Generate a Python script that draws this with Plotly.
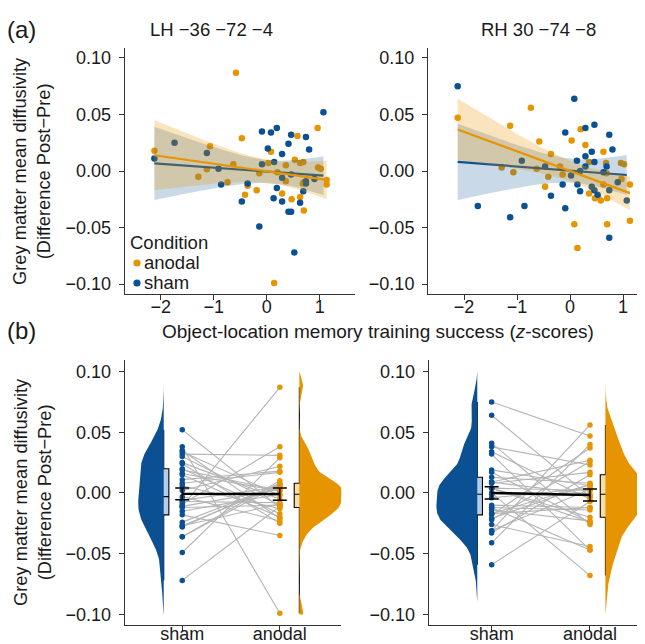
import numpy as np
import plotly.graph_objects as go

# ---------------- data ----------------
anodal_x = [-2.12, -1.29, -1.13, -1.07, -0.74, -0.63, -0.58, -0.47, -0.41, -0.36, -0.19,
            -0.14, 0.03, 0.08, 0.14, 0.20, 0.29, 0.36, 0.36, 0.47, 0.53, 0.58, 0.63, 0.63,
            0.68, 0.69, 0.70, 0.70, 0.96, 0.97, 1.02, 1.13, 1.13]
sham_x = [-2.12, -1.74, -1.13, -0.91, -0.86, -0.47, -0.36, -0.14, -0.09, -0.09, 0.02,
          0.08, 0.13, 0.14, 0.19, 0.19, 0.29, 0.29, 0.29, 0.41, 0.41, 0.46, 0.46, 0.46,
          0.52, 0.63, 0.69, 0.74, 0.74, 0.74, 0.80, 0.90, 1.07]

lh_anodal_y = [0.018, -0.005, 0.0015, 0.022, -0.010, 0.006, 0.087, 0.029, -0.021, -0.013,
               -0.017, -0.002, 0.007, 0.017, -0.099, -0.001, -0.020, 0.005, -0.009, -0.025,
               0.010, 0.031, 0.007, -0.023, -0.011, 0.008, -0.035, -0.010, 0.038, 0.003,
               0.002, -0.008, -0.012]
lh_sham_y = [0.011, 0.025, 0.016, 0.002, -0.012, -0.027, -0.011, -0.049, 0.035, 0.006,
             0.020, 0.034, -0.024, 0.008, 0.038, -0.015, 0.015, -0.006, -0.027, 0.024,
             -0.036, 0.032, -0.036, -0.003, -0.072, -0.028, -0.018, 0.030, -0.009, -0.011,
             0.019, -0.007, 0.052]
rh_anodal_y = [0.047, 0.003, 0.040, -0.001, 0.056, 0.002, 0.026, -0.014, -0.005, 0.015,
               0.004, -0.003, 0.027, -0.047, -0.068, 0.037, 0.023, 0.008, -0.020, -0.024,
               -0.023, -0.026, 0.017, -0.012, 0.007, -0.002, -0.024, -0.047, 0.007, -0.007,
               0.006, -0.012, -0.044]
rh_sham_y = [0.075, -0.031, -0.041, 0.009, -0.031, 0.004, -0.022, -0.012, 0.034, -0.033,
             -0.004, 0.064, 0.009, -0.012, 0.000, -0.018, 0.038, 0.013, 0.004, 0.017,
             -0.014, 0.041, 0.008, -0.017, -0.021, -0.001, 0.004, 0.032, -0.017, -0.059,
             0.019, -0.010, -0.026]

conditions = ["sham", "anodal"]
legend_labels = ["anodal", "sham"]
panel_titles = ["LH \u221236 \u221272 \u22124", "RH 30 \u221274 \u22128"]
y_tickvals = [0.10, 0.05, 0.00, -0.05, -0.10]
y_ticktext = ["0.10", "0.05", "0.00", "\u22120.05", "\u22120.10"]
x_tickvals = [-2, -1, 0, 1]
x_ticktext = ["\u22122", "\u22121", "0", "1"]

# ---------------- styles ----------------
BLUE = "#0B5093"
ORANGE = "#E69500"
BLUE_BAND = "rgba(11,80,147,0.22)"
ORANGE_BAND = "rgba(230,149,0,0.26)"
BLUE_BOX = "#B4CDE8"
ORANGE_BOX = "#F8DDA8"
FONT = "Liberation Sans, Arial, Helvetica, sans-serif"
TXT = "#1a1a1a"
W, H = 645, 644


def px_x(p):
    return p / W


def px_y(p):
    return 1 - p / H


def fit_band(x, y, n_grid=80):
    x = np.asarray(x, float)
    y = np.asarray(y, float)
    n = len(x)
    b, a = np.polyfit(x, y, 1)
    xs = np.linspace(x.min(), x.max(), n_grid)
    yhat = a + b * xs
    resid = y - (a + b * x)
    s = np.sqrt(np.sum(resid ** 2) / (n - 2))
    sxx = np.sum((x - x.mean()) ** 2)
    se = s * np.sqrt(1.0 / n + (xs - x.mean()) ** 2 / sxx)
    t = 2.04
    return xs, yhat, yhat - t * se, yhat + t * se


def kde(y):
    y = np.asarray(y, float)
    n = len(y)
    sd = y.std(ddof=1)
    q75, q25 = np.percentile(y, [75, 25])
    bw = 0.9 * min(sd, (q75 - q25) / 1.34) * n ** -0.2
    lo = max(y.min() - 3 * bw, -0.1)
    hi = min(y.max() + 3 * bw, 0.1)
    grid = np.linspace(lo, hi, 240)
    d = np.exp(-0.5 * ((grid[:, None] - y[None, :]) / bw) ** 2).sum(1) / (n * bw * np.sqrt(2 * np.pi))
    return grid, d


fig = go.Figure()

# ---------------- top scatter panels ----------------
top_sets = [
    ("x", "y", lh_anodal_y, lh_sham_y),
    ("x2", "y2", rh_anodal_y, rh_sham_y),
]
for xa, ya, an_y, sh_y in top_sets:
    fig.add_trace(go.Scatter(x=anodal_x, y=an_y, mode="markers", name="anodal",
                             marker=dict(color=ORANGE, size=6.5), xaxis=xa, yaxis=ya))
    fig.add_trace(go.Scatter(x=sham_x, y=sh_y, mode="markers", name="sham",
                             marker=dict(color=BLUE, size=6.5), xaxis=xa, yaxis=ya))
    for xv, yv, band, col in [(sham_x, sh_y, BLUE_BAND, BLUE), (anodal_x, an_y, ORANGE_BAND, ORANGE)]:
        xs, yh, lo, hi = fit_band(xv, yv)
        fig.add_trace(go.Scatter(x=np.concatenate([xs, xs[::-1]]), y=np.concatenate([hi, lo[::-1]]),
                                 fill="toself", fillcolor=band, line=dict(width=0), mode="lines",
                                 hoverinfo="skip", xaxis=xa, yaxis=ya))
        fig.add_trace(go.Scatter(x=xs, y=yh, mode="lines", line=dict(color=col, width=2.2),
                                 xaxis=xa, yaxis=ya))

# ---------------- bottom raincloud panels ----------------
bottom_sets = [
    ("x3", "y3", lh_sham_y, lh_anodal_y, 0.81, 2.20),
    ("x4", "y4", rh_sham_y, rh_anodal_y, 0.854, 2.157),
]
for xa, ya, sh_y, an_y, sh_pos, an_pos in bottom_sets:
    g_s, d_s = kde(sh_y)
    g_a, d_a = kde(an_y)
    scale = 0.44 / max(d_s.max(), d_a.max())
    # half violins
    xs_v = np.concatenate([[sh_pos], sh_pos - d_s * scale, [sh_pos]])
    ys_v = np.concatenate([[g_s[0]], g_s, [g_s[-1]]])
    fig.add_trace(go.Scatter(x=xs_v, y=ys_v, fill="toself", fillcolor=BLUE, mode="lines",
                             line=dict(width=0, color=BLUE), xaxis=xa, yaxis=ya, hoverinfo="skip"))
    xa_v = np.concatenate([[an_pos], an_pos + d_a * scale, [an_pos]])
    ya_v = np.concatenate([[g_a[0]], g_a, [g_a[-1]]])
    fig.add_trace(go.Scatter(x=xa_v, y=ya_v, fill="toself", fillcolor=ORANGE, mode="lines",
                             line=dict(width=0, color=ORANGE), xaxis=xa, yaxis=ya, hoverinfo="skip"))
    # boxes
    for vals, pos, fc in [(sh_y, sh_pos, BLUE_BOX), (an_y, an_pos, ORANGE_BOX)]:
        fig.add_trace(go.Box(y=vals, x0=pos, width=0.105, boxpoints=False, fillcolor=fc,
                             line=dict(color="black", width=1.1), whiskerwidth=0,
                             quartilemethod="inclusive", xaxis=xa, yaxis=ya, hoverinfo="skip"))
    # paired lines
    lx, ly = [], []
    for s, a in zip(sh_y, an_y):
        lx += [1, 2, None]
        ly += [s, a, None]
    fig.add_trace(go.Scatter(x=lx, y=ly, mode="lines", line=dict(color="#B4B4B4", width=1.1),
                             xaxis=xa, yaxis=ya, hoverinfo="skip"))
    # dots
    fig.add_trace(go.Scatter(x=[1] * len(sh_y), y=sh_y, mode="markers",
                             marker=dict(color=BLUE, size=5.5), xaxis=xa, yaxis=ya))
    fig.add_trace(go.Scatter(x=[2] * len(an_y), y=an_y, mode="markers",
                             marker=dict(color=ORANGE, size=5.5), xaxis=xa, yaxis=ya))
    # mean +- SE
    means = [np.mean(sh_y), np.mean(an_y)]
    ses = [np.std(sh_y, ddof=1) / np.sqrt(len(sh_y)), np.std(an_y, ddof=1) / np.sqrt(len(an_y))]
    fig.add_trace(go.Scatter(x=[1, 2], y=means, mode="lines", line=dict(color="black", width=2.4),
                             error_y=dict(type="data", array=ses, color="black", thickness=1.5, width=7),
                             xaxis=xa, yaxis=ya))

# ---------------- layout ----------------
axis_common = dict(showline=True, linecolor="#333333", linewidth=1, ticks="outside", ticklen=5,
                   tickcolor="#333333", showgrid=False, zeroline=False, automargin=False,
                   tickfont=dict(family=FONT, size=18, color=TXT))
x_top = dict(ticklabelstandoff=-9, **axis_common)
x_bot = dict(ticklabelstandoff=-13, **axis_common)
y_common = dict(ticklabelstandoff=4, **axis_common)

top_y = [px_y(286), px_y(40)]
bot_y = [px_y(617), px_y(352)]
TOP_R = [-0.1088, 0.1088]
BOT_R = [-0.1087, 0.1095]

layout = dict(
    width=W, height=H, margin=dict(l=0, r=0, t=0, b=0), autosize=False,
    paper_bgcolor="white", plot_bgcolor="white", showlegend=False,
    font=dict(family=FONT, size=18, color=TXT),
    xaxis=dict(domain=[px_x(116.7), px_x(346.7)], range=[-2.68, 1.66], anchor="y",
               tickvals=x_tickvals, ticktext=x_ticktext, **x_top),
    yaxis=dict(domain=top_y, range=TOP_R, anchor="x",
               tickvals=y_tickvals, ticktext=y_ticktext, **y_common),
    xaxis2=dict(domain=[px_x(420), px_x(641)], range=[-2.68, 1.49], anchor="y2",
                tickvals=x_tickvals, ticktext=x_ticktext, **x_top),
    yaxis2=dict(domain=top_y, range=TOP_R, anchor="x2",
                tickvals=y_tickvals, ticktext=y_ticktext, **y_common),
    xaxis3=dict(domain=[px_x(116.7), px_x(333.3)], range=[0.41, 2.63], anchor="y3",
                tickvals=[1, 2], ticktext=conditions, **x_bot),
    yaxis3=dict(domain=bot_y, range=BOT_R, anchor="x3",
                tickvals=y_tickvals, ticktext=y_ticktext, **y_common),
    xaxis4=dict(domain=[px_x(420.7), px_x(641)], range=[0.36, 2.60], anchor="y4",
                tickvals=[1, 2], ticktext=conditions, **x_bot),
    yaxis4=dict(domain=bot_y, range=BOT_R, anchor="x4",
                tickvals=y_tickvals, ticktext=y_ticktext, **y_common),
)
fig.update_layout(**layout)

# legend (Condition) drawn inside the top-left panel
legend_colors = [ORANGE, BLUE]
legend_rows = [255, 275]
shapes = []
for col, row in zip(legend_colors, legend_rows):
    shapes.append(dict(type="circle", xref="paper", yref="paper",
                       x0=px_x(129 - 3.6), x1=px_x(129 + 3.6),
                       y0=px_y(row + 3.6), y1=px_y(row - 3.6),
                       fillcolor=col, line=dict(width=0)))
fig.update_layout(shapes=shapes)

ann = [
    dict(text="(a)", x=px_x(0), y=px_y(21), xanchor="left", yanchor="middle", font=dict(size=24),
         xshift=-3),
    dict(text="(b)", x=px_x(0), y=px_y(322), xanchor="left", yanchor="middle", font=dict(size=24),
         xshift=-3),
    dict(text=panel_titles[0], x=px_x(203), y=px_y(21), xanchor="center", yanchor="middle",
         font=dict(size=18.5)),
    dict(text=panel_titles[1], x=px_x(530), y=px_y(21), xanchor="center", yanchor="middle",
         font=dict(size=18.5)),
    dict(text="Object-location memory training success (<i>z</i>-scores)", x=px_x(370),
         y=px_y(323), xanchor="center", yanchor="middle", font=dict(size=19)),
    dict(text="Grey matter mean diffusivity<br>(Difference Post\u2212Pre)", x=px_x(24),
         y=px_y(163), xanchor="center", yanchor="middle", textangle=-90, font=dict(size=18.3)),
    dict(text="Grey matter mean diffusivity<br>(Difference Post\u2212Pre)", x=px_x(24),
         y=px_y(484), xanchor="center", yanchor="middle", textangle=-90, font=dict(size=18.3)),
    dict(text="Condition", x=px_x(120), y=px_y(235), xanchor="left", yanchor="middle",
         font=dict(size=18.5)),
]
for lab, row in zip(legend_labels, legend_rows):
    ann.append(dict(text=lab, x=px_x(134), y=px_y(row - 1), xanchor="left", yanchor="middle",
                    font=dict(size=18.5)))
for a in ann:
    a.update(xref="paper", yref="paper", showarrow=False)
    a["font"] = dict(family=FONT, color=TXT, **a["font"])
fig.update_layout(annotations=ann)

fig.write_html("out.html")
